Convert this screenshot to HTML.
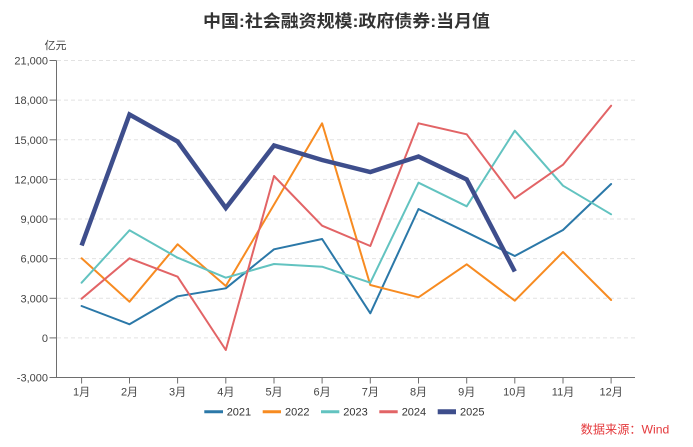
<!DOCTYPE html>
<html>
<head>
<meta charset="utf-8">
<style>
html,body{margin:0;padding:0;background:#fff;}
svg{display:block;}
text{font-family:"Liberation Sans","Noto Sans CJK SC",sans-serif;}
</style>
</head>
<body>
<svg width="693" height="447" viewBox="0 0 693 447" xmlns="http://www.w3.org/2000/svg">
<rect width="693" height="447" fill="#fff"/>
<!-- title -->
<text x="346.5" y="27" text-anchor="middle" font-size="17" font-weight="bold" fill="#333" textLength="287" lengthAdjust="spacingAndGlyphs">中国:社会融资规模:政府债券:当月值</text>
<!-- unit -->
<text x="55.5" y="49" text-anchor="middle" font-size="11" fill="#444">亿元</text>
<!-- grid -->
<g stroke="#e2e2e2" stroke-width="1" stroke-dasharray="4,3">
<line x1="57" y1="60.5" x2="635" y2="60.5"/>
<line x1="57" y1="100.1" x2="635" y2="100.1"/>
<line x1="57" y1="139.8" x2="635" y2="139.8"/>
<line x1="57" y1="179.4" x2="635" y2="179.4"/>
<line x1="57" y1="219.0" x2="635" y2="219.0"/>
<line x1="57" y1="258.6" x2="635" y2="258.6"/>
<line x1="57" y1="298.3" x2="635" y2="298.3"/>
<line x1="57" y1="337.9" x2="635" y2="337.9"/>
</g>
<!-- axes -->
<g stroke="#6e6e6e" stroke-width="1">
<line x1="56.5" y1="60.5" x2="56.5" y2="378"/>
<line x1="56" y1="377.5" x2="635" y2="377.5"/>
<line x1="49.5" y1="60.5" x2="56.5" y2="60.5"/>
<line x1="49.5" y1="100.1" x2="56.5" y2="100.1"/>
<line x1="49.5" y1="139.8" x2="56.5" y2="139.8"/>
<line x1="49.5" y1="179.4" x2="56.5" y2="179.4"/>
<line x1="49.5" y1="219.0" x2="56.5" y2="219.0"/>
<line x1="49.5" y1="258.6" x2="56.5" y2="258.6"/>
<line x1="49.5" y1="298.3" x2="56.5" y2="298.3"/>
<line x1="49.5" y1="337.9" x2="56.5" y2="337.9"/>
<line x1="49.5" y1="377.5" x2="56.5" y2="377.5"/>
<line x1="81.6" y1="377.5" x2="81.6" y2="383.5"/>
<line x1="129.5" y1="377.5" x2="129.5" y2="383.5"/>
<line x1="177.6" y1="377.5" x2="177.6" y2="383.5"/>
<line x1="225.8" y1="377.5" x2="225.8" y2="383.5"/>
<line x1="274.0" y1="377.5" x2="274.0" y2="383.5"/>
<line x1="322.1" y1="377.5" x2="322.1" y2="383.5"/>
<line x1="370.3" y1="377.5" x2="370.3" y2="383.5"/>
<line x1="418.5" y1="377.5" x2="418.5" y2="383.5"/>
<line x1="466.7" y1="377.5" x2="466.7" y2="383.5"/>
<line x1="514.8" y1="377.5" x2="514.8" y2="383.5"/>
<line x1="563.0" y1="377.5" x2="563.0" y2="383.5"/>
<line x1="611.1" y1="377.5" x2="611.1" y2="383.5"/>
</g>
<!-- y labels -->
<g font-size="11" fill="#444" text-anchor="end">
<text x="48" y="64.5">21,000</text>
<text x="48" y="104.1">18,000</text>
<text x="48" y="143.8">15,000</text>
<text x="48" y="183.4">12,000</text>
<text x="48" y="223.0">9,000</text>
<text x="48" y="262.6">6,000</text>
<text x="48" y="302.3">3,000</text>
<text x="48" y="341.9">0</text>
<text x="48" y="381.5">-3,000</text>
</g>
<!-- x labels -->
<g font-size="11" fill="#444" text-anchor="middle">
<text x="81.6" y="395.5">1月</text>
<text x="129.5" y="395.5">2月</text>
<text x="177.6" y="395.5">3月</text>
<text x="225.8" y="395.5">4月</text>
<text x="274.0" y="395.5">5月</text>
<text x="322.1" y="395.5">6月</text>
<text x="370.3" y="395.5">7月</text>
<text x="418.5" y="395.5">8月</text>
<text x="466.7" y="395.5">9月</text>
<text x="514.8" y="395.5">10月</text>
<text x="563.0" y="395.5">11月</text>
<text x="611.1" y="395.5">12月</text>
</g>
<!-- series -->
<g fill="none" stroke-linejoin="round" stroke-linecap="round">
<polyline stroke="#2b78a8" stroke-width="2" points="81.6,306 129.5,324.3 177.6,296.3 225.8,288.3 274.0,249.3 322.1,239 370.3,313.3 418.5,209 466.7,232.3 514.8,256 563.0,230 611.1,184"/>
<polyline stroke="#f78b21" stroke-width="2" points="81.6,258.3 129.5,301.7 177.6,244.3 225.8,286 274.0,204.6 322.1,123.3 370.3,285 418.5,297.3 466.7,264.3 514.8,300.7 563.0,252 611.1,300"/>
<polyline stroke="#62c3c0" stroke-width="2" points="81.6,282.7 129.5,230.3 177.6,257.7 225.8,277.7 274.0,264 322.1,266.7 370.3,282.7 418.5,182.7 466.7,206.3 514.8,130.7 563.0,185.7 611.1,214.3"/>
<polyline stroke="#e26466" stroke-width="2" points="81.6,298.7 129.5,258.3 177.6,276.7 225.8,350 274.0,176 322.1,225.7 370.3,246 418.5,123.3 466.7,134.3 514.8,198.3 563.0,164.7 611.1,105.7"/>
<polyline stroke="#3e4e8c" stroke-width="4.5" stroke-linecap="butt" stroke-linejoin="miter" points="81.6,245.5 129.5,114.5 177.6,141.5 225.8,208 274.0,145.5 322.1,160 370.3,172 418.5,156.5 466.7,179.5 514.8,271.5"/>
</g>
<!-- legend -->
<g stroke-width="3">
<line x1="204.3" y1="411.7" x2="223" y2="411.7" stroke="#2b78a8"/>
<line x1="262.7" y1="411.7" x2="281" y2="411.7" stroke="#f78b21"/>
<line x1="321" y1="411.7" x2="339.3" y2="411.7" stroke="#62c3c0"/>
<line x1="379.3" y1="411.7" x2="397.7" y2="411.7" stroke="#e26466"/>
<line x1="437.7" y1="411.7" x2="456" y2="411.7" stroke="#3e4e8c" stroke-width="5"/>
</g>
<g font-size="11" fill="#333">
<text x="226.7" y="415.5">2021</text>
<text x="285" y="415.5">2022</text>
<text x="343.3" y="415.5">2023</text>
<text x="401.7" y="415.5">2024</text>
<text x="460" y="415.5">2025</text>
</g>
<!-- source -->
<text x="580.7" y="433.5" font-size="12" fill="#e4393c" textLength="88.6" lengthAdjust="spacingAndGlyphs">数据来源：Wind</text>
</svg>
</body>
</html>
